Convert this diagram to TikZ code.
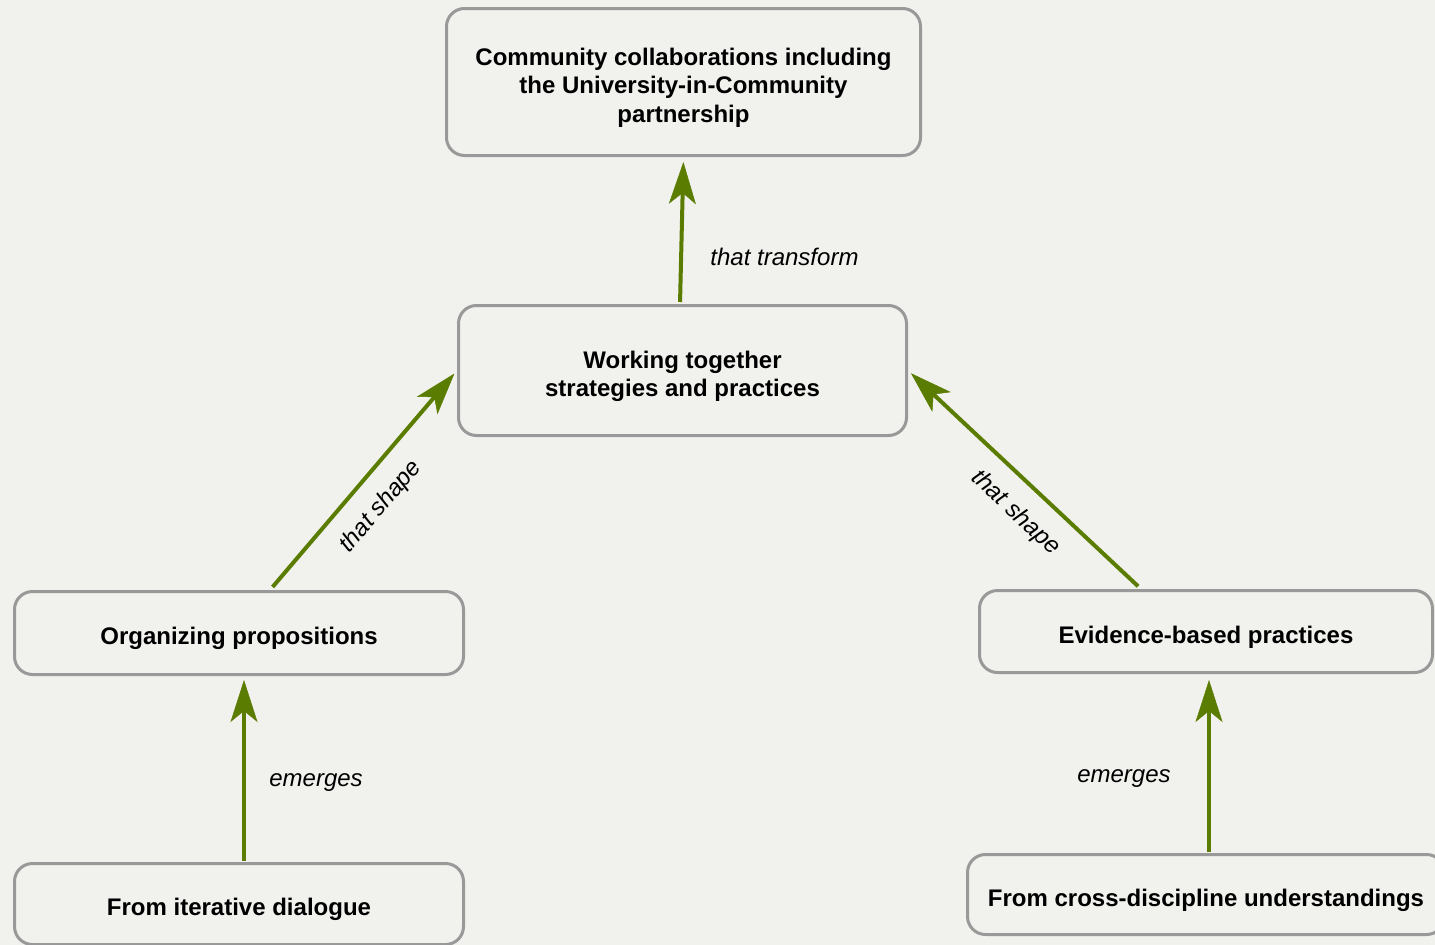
\documentclass[tikz,border=0pt]{standalone}
\usepackage{fontspec}
\setmainfont{Liberation Sans}
\usepackage{tikz}
\usetikzlibrary{arrows.meta}

\definecolor{paper}{RGB}{241,241,237}
\definecolor{frame}{RGB}{153,153,153}
\definecolor{leaf}{RGB}{90,124,0}

\begin{document}
\begin{tikzpicture}[x=1pt,y=-1pt,
      >={Stealth[length=42pt,width=27pt,inset=11pt,line width=0.5pt]},
      box/.style={draw=frame,line width=3pt,rounded corners=18pt,fill=paper,
        align=center,font=\bfseries\fontsize{24}{28.5}\selectfont,
        text depth=0pt,text height=23.5pt},
      link/.style={->,color=leaf,line width=4pt,shorten >=4pt,shorten <=4pt}]

      \fill[paper] (0,0) rectangle (1435,945);
      \useasboundingbox (0,0) rectangle (1435,945);

      \node[box,text height=80.5pt,minimum width=474pt,minimum height=147pt] (top) at (683.5,82)
        {Community collaborations including\\the University-in-Community\\partnership};
      \node[box,text height=52pt,minimum width=448pt,minimum height=130pt] (mid) at (682.5,370.5)
        {Working together\\strategies and practices};
      \node[box,minimum width=449pt,minimum height=83pt] (org) at (239,633)
        {Organizing propositions};
      \node[box,minimum width=453pt,minimum height=82pt] (evid) at (1206,631.5)
        {Evidence-based practices};
      \node[box,minimum width=449pt,minimum height=81pt] (iter) at (239,904)
        {From iterative dialogue};
      \node[box,minimum width=477pt,minimum height=80pt] (cross) at (1206,894.5)
        {From cross-discipline understandings};

      \path[link,every node/.style={font=\itshape\fontsize{24}{28}\selectfont,text=black}]
      ([xshift=-2.5pt]mid.north) edge[shorten <=2pt,shorten >=5pt]
        node[right,pos=0.32,xshift=24pt] {that transform} (top.south)
      ([xshift=31pt]org.north) edge
        node[sloped,below=14pt,pos=0.47] {that shape} (mid.west)
      ([xshift=-65pt]evid.north) edge
        node[sloped,below=14pt,pos=0.45] {that shape} (mid.east)
      ([xshift=5pt]iter.north) edge[shorten <=1pt]
        node[right,pos=0.427,xshift=20pt] {emerges} ([xshift=5pt]org.south)
      ([xshift=3pt]cross.north) edge[shorten <=1pt,shorten >=6pt]
        node[left,pos=0.414,xshift=-33pt] {emerges} ([xshift=3pt]evid.south);
    \end{tikzpicture}
\end{document}
